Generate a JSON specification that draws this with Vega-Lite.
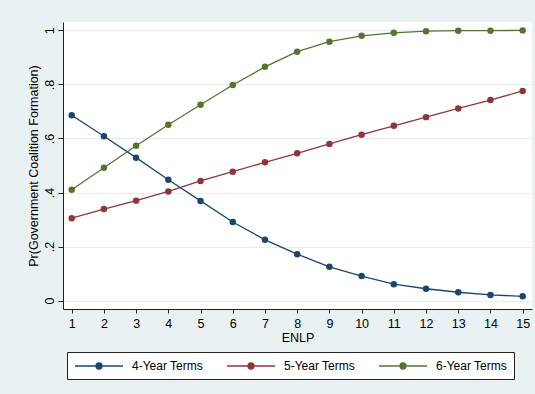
{
  "$schema": "https://vega.github.io/schema/vega-lite/v6.json",
  "width": 469,
  "height": 287,
  "autosize": {"type": "none"},
  "padding": {"left": 63, "top": 22, "right": 3, "bottom": 85},
  "background": "#e9f1f3",
  "config": {
    "view": {"fill": "#ffffff", "stroke": null},
    "font": "Liberation Sans",
    "axis": {
      "labelFont": "Liberation Sans",
      "titleFont": "Liberation Sans",
      "labelColor": "#000000",
      "titleColor": "#000000",
      "titleFontWeight": "normal",
      "domainColor": "#222222",
      "tickColor": "#222222",
      "domainWidth": 1,
      "tickWidth": 1
    },
    "legend": {"labelFont": "Liberation Sans"}
  },
  "data": {
    "values": [
      {"enlp": 1, "term": "4-Year Terms", "p": 0.686},
      {"enlp": 2, "term": "4-Year Terms", "p": 0.608},
      {"enlp": 3, "term": "4-Year Terms", "p": 0.529},
      {"enlp": 4, "term": "4-Year Terms", "p": 0.447},
      {"enlp": 5, "term": "4-Year Terms", "p": 0.369},
      {"enlp": 6, "term": "4-Year Terms", "p": 0.291},
      {"enlp": 7, "term": "4-Year Terms", "p": 0.225},
      {"enlp": 8, "term": "4-Year Terms", "p": 0.172},
      {"enlp": 9, "term": "4-Year Terms", "p": 0.125},
      {"enlp": 10, "term": "4-Year Terms", "p": 0.091},
      {"enlp": 11, "term": "4-Year Terms", "p": 0.061},
      {"enlp": 12, "term": "4-Year Terms", "p": 0.044},
      {"enlp": 13, "term": "4-Year Terms", "p": 0.031},
      {"enlp": 14, "term": "4-Year Terms", "p": 0.021},
      {"enlp": 15, "term": "4-Year Terms", "p": 0.016},
      {"enlp": 1, "term": "5-Year Terms", "p": 0.305},
      {"enlp": 2, "term": "5-Year Terms", "p": 0.339},
      {"enlp": 3, "term": "5-Year Terms", "p": 0.370},
      {"enlp": 4, "term": "5-Year Terms", "p": 0.404},
      {"enlp": 5, "term": "5-Year Terms", "p": 0.443},
      {"enlp": 6, "term": "5-Year Terms", "p": 0.477},
      {"enlp": 7, "term": "5-Year Terms", "p": 0.512},
      {"enlp": 8, "term": "5-Year Terms", "p": 0.545},
      {"enlp": 9, "term": "5-Year Terms", "p": 0.580},
      {"enlp": 10, "term": "5-Year Terms", "p": 0.614},
      {"enlp": 11, "term": "5-Year Terms", "p": 0.647},
      {"enlp": 12, "term": "5-Year Terms", "p": 0.679},
      {"enlp": 13, "term": "5-Year Terms", "p": 0.711},
      {"enlp": 14, "term": "5-Year Terms", "p": 0.742},
      {"enlp": 15, "term": "5-Year Terms", "p": 0.776},
      {"enlp": 1, "term": "6-Year Terms", "p": 0.410},
      {"enlp": 2, "term": "6-Year Terms", "p": 0.492},
      {"enlp": 3, "term": "6-Year Terms", "p": 0.573},
      {"enlp": 4, "term": "6-Year Terms", "p": 0.651},
      {"enlp": 5, "term": "6-Year Terms", "p": 0.725},
      {"enlp": 6, "term": "6-Year Terms", "p": 0.798},
      {"enlp": 7, "term": "6-Year Terms", "p": 0.865},
      {"enlp": 8, "term": "6-Year Terms", "p": 0.921},
      {"enlp": 9, "term": "6-Year Terms", "p": 0.958},
      {"enlp": 10, "term": "6-Year Terms", "p": 0.980},
      {"enlp": 11, "term": "6-Year Terms", "p": 0.991},
      {"enlp": 12, "term": "6-Year Terms", "p": 0.997},
      {"enlp": 13, "term": "6-Year Terms", "p": 0.999},
      {"enlp": 14, "term": "6-Year Terms", "p": 0.999},
      {"enlp": 15, "term": "6-Year Terms", "p": 1.0}
    ]
  },
  "encoding": {
    "x": {
      "field": "enlp",
      "type": "quantitative",
      "scale": {"domain": [0.73, 15.29], "nice": false, "zero": false},
      "axis": {
        "title": "ENLP",
        "values": [1, 2, 3, 4, 5, 6, 7, 8, 9, 10, 11, 12, 13, 14, 15],
        "grid": false,
        "tickSize": 4,
        "labelPadding": 4,
        "labelFontSize": 12.5,
        "titleFontSize": 12.5,
        "titlePadding": 2,
        "labelFlush": false,
        "labelOverlap": false
      }
    },
    "y": {
      "field": "p",
      "type": "quantitative",
      "scale": {"domain": [-0.031, 1.031], "nice": false, "zero": false},
      "axis": {
        "title": "Pr(Government Coalition Formation)",
        "values": [0, 0.2, 0.4, 0.6, 0.8, 1],
        "labelExpr": "datum.value == 0 ? '0' : datum.value == 1 ? '1' : replace(format(datum.value, '.1f'), '0.', '.')",
        "grid": true,
        "gridColor": "#e6eef0",
        "gridWidth": 1,
        "tickSize": 5,
        "labelAngle": -90,
        "labelAlign": "center",
        "labelBaseline": "alphabetic",
        "labelPadding": 5,
        "labelFontSize": 12.5,
        "titleFontSize": 12.5,
        "titlePadding": 3,
        "labelFlush": false,
        "labelOverlap": false
      }
    },
    "color": {
      "field": "term",
      "type": "nominal",
      "scale": {
        "domain": ["4-Year Terms", "5-Year Terms", "6-Year Terms"],
        "range": ["#1a476f", "#90353b", "#55752f"]
      },
      "legend": {
        "title": null,
        "orient": "none",
        "legendX": 4,
        "legendY": 330,
        "direction": "horizontal",
        "columns": 3,
        "fillColor": "#ffffff",
        "strokeColor": "#222222",
        "padding": 7,
        "columnPadding": 21,
        "labelOffset": 44,
        "labelFontSize": 12,
        "labelColor": "#000000",
        "symbolType": "M-1,0H7M3.5,0A0.5,0.5 0 1,1 2.5,0A0.5,0.5 0 1,1 3.5,0Z",
        "symbolSize": 144,
        "symbolStrokeWidth": 1.3,
        "symbolOpacity": 1,
        "encode": {
          "symbols": {
            "update": {
              "stroke": {"scale": "color", "field": "value"},
              "fill": {"scale": "color", "field": "value"}
            }
          }
        }
      }
    }
  },
  "layer": [
    {"mark": {"type": "line", "strokeWidth": 1.3}},
    {"mark": {"type": "point", "filled": true, "size": 42, "opacity": 1}}
  ]
}
